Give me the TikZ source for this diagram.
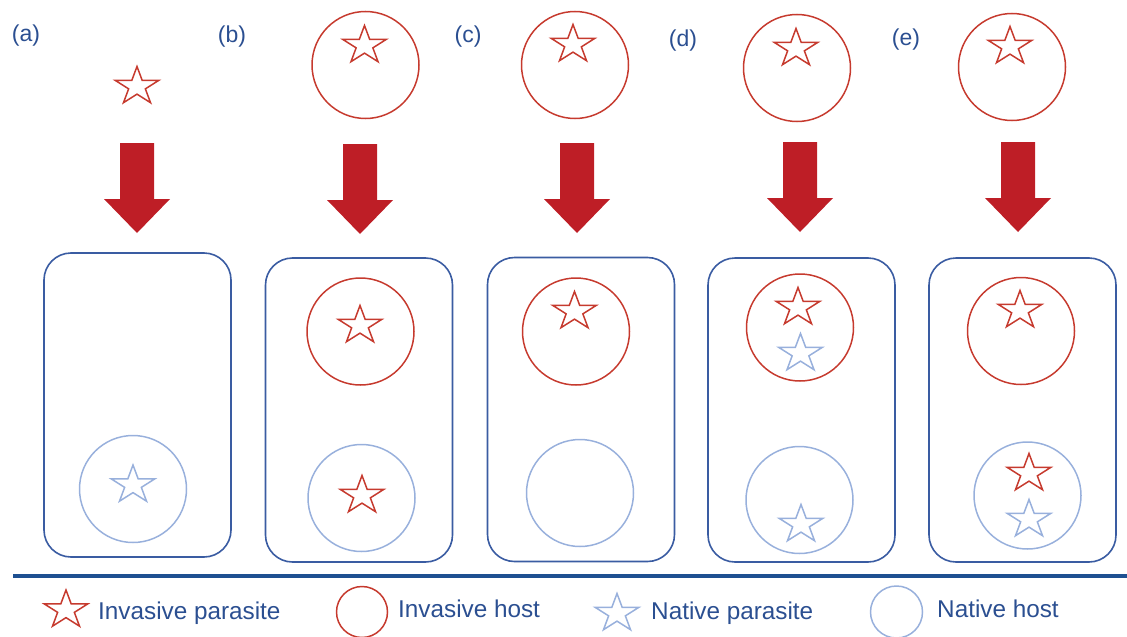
\documentclass[tikz,border=0pt]{standalone}
\usepackage{fontspec}
\setmainfont{Liberation Sans}
\usetikzlibrary{shapes.geometric}
\definecolor{arrowred}{RGB}{190,30,38}
\definecolor{invred}{RGB}{198,58,46}
\definecolor{natblue}{RGB}{152,176,220}
\definecolor{boxblue}{RGB}{58,92,162}
\definecolor{textblue}{RGB}{43,79,145}
\definecolor{linblue}{RGB}{30,80,145}
\begin{document}
\begin{tikzpicture}[x=1pt,y=-1pt,
  inv/.style={star,star points=5,star point ratio=2.618,minimum size=40pt,inner sep=0pt,draw=invred,line width=1.5pt,xscale=1.15,transform shape},
  nat/.style={inv,draw=natblue},
  ihost/.style={circle,minimum size=107pt,inner sep=0pt,draw=invred,line width=1.5pt},
  nhost/.style={ihost,draw=natblue},
  patch/.style={rectangle,draw=boxblue,line width=1.6pt,rounded corners=27pt,minimum width=187pt,minimum height=304pt,inner sep=0pt},
  lbl/.style={text=textblue,font=\fontsize{23}{27}\selectfont,inner sep=0pt},
  leg/.style={text=textblue,font=\fontsize{24.3}{28}\selectfont,inner sep=0pt,anchor=base west},
  bigarrow/.pic={\fill[arrowred] (-17,0) -- (17,0) -- (17,56) -- (33,56) -- (0,90) -- (-33,56) -- (-17,56) -- cycle;}
]
\useasboundingbox (0,0) rectangle (1127,637);

% panel labels
\node[lbl] (la) at (26,36) {(a)};
\node[lbl] (lb) at (232,37) {(b)};
\node[lbl] (lc) at (468,37) {(c)};
\node[lbl] (ld) at (683,41) {(d)};
\node[lbl] (le) at (906,40) {(e)};

% incoming organisms
\node[inv] (ta) at (137,86.5) {};
\node[ihost] (thb) at (365.5,65) {};
\node[inv] (tb) at (364.5,45.5) {};
\node[ihost] (thc) at (575,65) {};
\node[inv] (tc) at (573,44.5) {};
\node[ihost] (thd) at (797,68) {};
\node[inv] (td) at (796,48.5) {};
\node[ihost] (the) at (1012,67) {};
\node[inv] (te) at (1010,46.5) {};

% big arrows
\pic at (137,143) {bigarrow};
\pic at (360,144) {bigarrow};
\pic at (577,143) {bigarrow};
\pic at (800,142) {bigarrow};
\pic at (1018,142) {bigarrow};

% boxes
\node[patch] (ba) at (137.5,405) {};
\node[patch] (bb) at (359,410) {};
\node[patch] (bc) at (581,409.5) {};
\node[patch] (bd) at (801.5,410) {};
\node[patch] (be) at (1022.5,410) {};

% (a)
\node[nhost] (nha) at (133,489) {};
\node[nat] (nsa) at (133,485) {};
% (b)
\node[ihost] (ihb) at (360.5,331.5) {};
\node[inv] (isb) at (360,325.5) {};
\node[nhost] (nhb) at (361.5,498) {};
\node[inv] (isb2) at (362,495.5) {};
% (c)
\node[ihost] (ihc) at (576,331.5) {};
\node[inv] (isc) at (574.5,311.5) {};
\node[nhost] (nhc) at (580,493) {};
% (d)
\node[ihost] (ihd) at (800,327.5) {};
\node[inv] (isd) at (798,307.5) {};
\node[nat] (nsd) at (800.5,353.5) {};
\node[nhost] (nhd) at (799.5,500) {};
\node[nat] (nsd2) at (801,524.5) {};
% (e)
\node[ihost] (ihe) at (1021,331) {};
\node[inv] (ise) at (1020,310.5) {};
\node[nhost] (nhe) at (1027.5,495.5) {};
\node[inv] (ise2) at (1029,473.5) {};
\node[nat] (nse) at (1029,519.5) {};

% legend
\coordinate (l1) at (13,576);
\coordinate (l2) at (1127,576);
\draw[linblue,line width=4.5pt] (l1) -- (l2);
\node[inv] (k1) at (66,610) {};
\node[leg] (t1) at (98,619) {Invasive parasite};
\node[ihost,minimum size=51pt] (k2) at (362,612) {};
\node[leg] (t2) at (398,617) {Invasive host};
\node[nat] (k3) at (617,613.5) {};
\node[leg] (t3) at (651,619) {Native parasite};
\node[nhost,minimum size=52pt] (k4) at (896.5,612) {};
\node[leg] (t4) at (937,617) {Native host};
\end{tikzpicture}
\end{document}
